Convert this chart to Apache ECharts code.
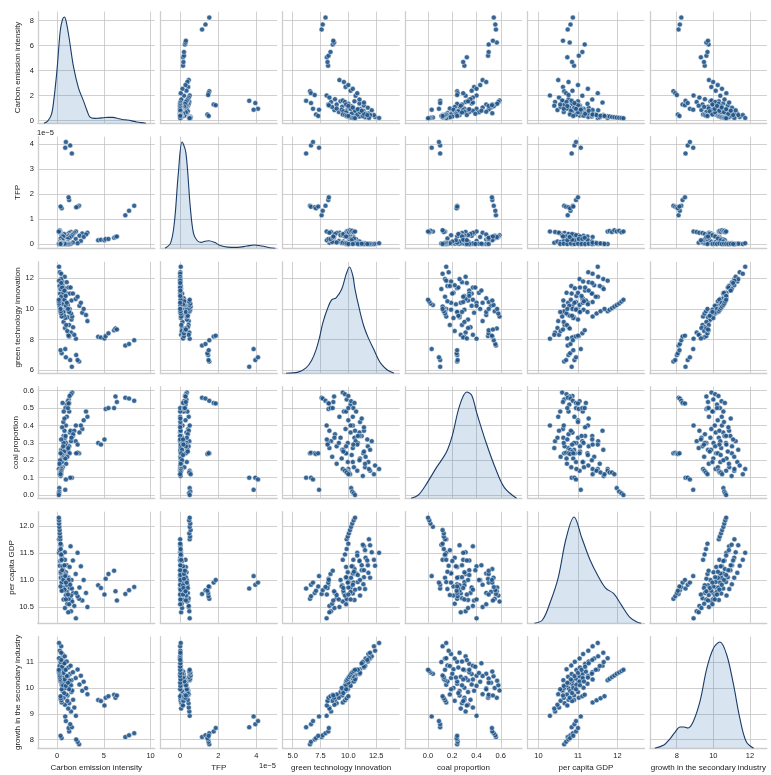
<!DOCTYPE html>
<html>
<head>
<meta charset="utf-8">
<script src="https://cdn.jsdelivr.net/npm/echarts@6/dist/echarts.min.js"></script>
<style>html,body{margin:0;background:#fff}#chart{width:771px;height:775px}</style>
</head>
<body>
<div id="chart"></div>
<script>
/* Pair plot: 6 variables, scatter off-diagonal, KDE on the diagonal. */
const varNames = ['Carbon emission intensity', 'TFP', 'green technology innovation',
  'coal proportion', 'per capita GDP', 'growth in the secondary industry'];

// observations (same order in every array), TFP in units of 1e-5
const cei = [
  0.95, 0.62, 0.8, 0.41, 0.58, 0.3, 0.45, 0.22,
  1.55, 1.1, 1.38, 0.92, 1.22, 0.7, 1.04, 0.55, 0.83, 0.45,
  3.25, 2.7, 3.1, 2.4, 2.85, 2.0, 2.55, 1.7, 2.2, 1.45,
  2.02, 1.5, 1.85, 1.3, 1.72, 1.12, 1.55, 0.95, 1.35, 0.85,
  1.62, 1.25, 1.5, 1.05, 1.35, 0.9, 1.15, 0.72, 0.6,
  1.2, 0.85, 1.1, 0.7, 0.98, 0.6, 0.88, 0.5, 0.75, 0.42,
  0.75, 0.5, 0.66, 0.4, 0.58, 0.33, 0.47, 0.27, 0.38, 0.22,
  1.3, 0.95, 1.18, 0.8, 1.05, 0.68, 0.92, 0.55, 0.8, 0.45,
  0.35, 0.33, 0.3, 0.28, 0.25, 0.23, 0.22, 0.2,
  0.5, 0.45, 0.4, 0.38,
  4.4, 4.7, 5.07, 5.2, 5.5, 6.1, 6.25, 6.4,
  7.3, 7.7, 8.25, 1.3, 1.24,
  2.36, 2.2, 2.05, 0.5, 0.38,
  1.59, 1.41, 0.95, 0.88
];
const tfp = [
  0.02, 0.01, 0.04, 0.0, 0.02, 0.01, 0.0, 0.03,
  0.04, 0.02, 0.0, 0.03, 0.01, 0.0, 0.02, 0.01, 0.0, 0.01,
  0.45, 0.42, 0.38, 0.33, 0.28, 0.2, 0.12, 0.06, 0.03, 0.01,
  0.5, 0.48, 0.45, 0.44, 0.4, 0.38, 0.35, 0.33, 0.3, 0.28,
  0.35, 0.33, 0.3, 0.28, 0.25, 0.22, 0.2, 0.18, 0.15,
  0.05, 0.1, 0.08, 0.12, 0.06, 0.1, 0.04, 0.08, 0.05, 0.03,
  0.4, 0.35, 0.3, 0.22, 0.15, 0.1, 0.05, 0.03, 0.02, 0.0,
  0.0, 0.01, 0.0, 0.02, 0.0, 0.01, 0.0, 0.0, 0.01, 0.0,
  0.5, 0.52, 0.48, 0.55, 0.5, 0.53, 0.47, 0.5,
  0.05, 0.03, 0.02, 0.0,
  0.15, 0.17, 0.15, 0.2, 0.2, 0.25, 0.28, 0.3,
  1.15, 1.33, 1.53, 1.76, 1.87,
  1.53, 1.49, 1.47, 1.43, 1.5,
  3.63, 3.95, 4.09, 3.86
];
const green = [
  11.05, 11.5, 11.35, 11.95, 11.8, 12.4, 12.3, 12.76,
  10.55, 10.4, 11.0, 10.85, 11.4, 11.2, 11.75, 11.55, 12.1, 11.95,
  9.2, 9.75, 9.6, 10.2, 10.0, 10.65, 10.4, 11.0, 10.8, 11.4,
  8.05, 8.45, 8.3, 8.95, 8.8, 9.45, 9.3, 9.95, 9.8, 10.45,
  9.5, 9.85, 9.7, 10.2, 10.0, 10.45, 10.25, 10.7, 10.55,
  8.3, 8.75, 8.55, 9.15, 8.95, 9.55, 9.4, 10.0, 9.8, 10.4,
  9.55, 9.95, 9.8, 10.5, 10.3, 11.0, 10.8, 11.5, 11.3, 11.85,
  9.8, 10.2, 10.0, 10.6, 10.4, 11.05, 10.85, 11.4, 11.2, 11.7,
  9.85, 9.95, 10.05, 10.15, 10.25, 10.35, 10.48, 10.6,
  9.5, 9.7, 9.85, 10.0,
  8.18, 8.13, 8.07, 8.22, 8.4, 8.6, 8.72, 8.65,
  7.6, 7.7, 7.95, 8.2, 8.25,
  6.56, 6.65, 6.98, 7.1, 7.3,
  6.21, 6.65, 6.83, 7.37
];
const coal = [
  0.21, 0.16, 0.24, 0.14, 0.19, 0.17, 0.12, 0.15,
  0.33, 0.27, 0.36, 0.3, 0.25, 0.34, 0.28, 0.22, 0.31, 0.26,
  0.45, 0.38, 0.48, 0.36, 0.43, 0.31, 0.4, 0.34, 0.29, 0.37,
  0.4, 0.31, 0.37, 0.28, 0.35, 0.26, 0.33, 0.3, 0.24, 0.29,
  0.59, 0.55, 0.58, 0.52, 0.57, 0.5, 0.54, 0.48, 0.53,
  0.27, 0.33, 0.22, 0.3, 0.18, 0.26, 0.21, 0.15, 0.24, 0.19,
  0.25, 0.19, 0.28, 0.16, 0.23, 0.2, 0.14, 0.18, 0.11, 0.15,
  0.48, 0.4, 0.5, 0.37, 0.45, 0.42, 0.34, 0.39, 0.44, 0.32,
  0.14, 0.13, 0.13, 0.12, 0.04, 0.02, 0.01, 0.0,
  0.15, 0.14, 0.13, 0.12,
  0.3, 0.29, 0.32, 0.495, 0.5, 0.5, 0.567, 0.535,
  0.56, 0.555, 0.542, 0.53, 0.527,
  0.24, 0.244, 0.24, 0.236, 0.24,
  0.1, 0.1, 0.09, 0.03
];
const gdp = [
  10.71, 10.83, 10.92, 11.04, 11.13, 11.26, 11.37, 11.5,
  10.63, 10.75, 10.84, 10.96, 11.05, 11.18, 11.27, 11.41, 11.51, 11.64,
  10.5, 10.62, 10.76, 10.86, 11.0, 11.11, 11.25, 11.36, 11.5, 11.62,
  10.29, 10.42, 10.52, 10.66, 10.76, 10.9, 11.0, 11.14, 11.24, 11.37,
  10.6, 10.65, 10.71, 10.78, 10.86, 10.95, 11.04, 11.12, 11.2,
  10.4, 10.48, 10.56, 10.64, 10.72, 10.8, 10.88, 10.96, 11.04, 11.12,
  10.85, 10.95, 11.05, 11.15, 11.25, 11.35, 11.45, 11.55, 11.65, 11.75,
  10.55, 10.64, 10.73, 10.82, 10.91, 11.0, 11.09, 11.18, 11.27, 11.36,
  11.75, 11.8, 11.86, 11.92, 11.98, 12.04, 12.1, 12.15,
  11.37, 11.47, 11.57, 11.67,
  10.9, 10.85, 10.73, 11.02, 11.11, 11.17, 10.79, 10.62,
  10.74, 10.81, 10.87, 10.95, 11.0,
  10.65, 10.7, 10.76, 10.8, 10.88,
  10.84, 10.91, 10.95, 11.07
];
const growth = [
  10.72, 10.87, 11.01, 11.14, 11.31, 11.44, 11.61, 11.74,
  10.3, 10.43, 10.54, 10.69, 10.79, 10.93, 11.02, 11.14, 11.22, 11.36,
  9.76, 9.89, 9.99, 10.13, 10.24, 10.38, 10.47, 10.61, 10.71, 10.86,
  8.92, 9.09, 9.24, 9.41, 9.54, 9.71, 9.84, 10.01, 10.16, 10.33,
  9.9, 10.0, 10.1, 10.2, 10.28, 10.36, 10.45, 10.55, 10.63,
  9.2, 9.35, 9.5, 9.62, 9.75, 9.88, 10.0, 10.12, 10.25, 10.38,
  9.8, 9.95, 10.1, 10.25, 10.4, 10.55, 10.7, 10.85, 11.0, 11.15,
  9.95, 10.08, 10.2, 10.33, 10.46, 10.58, 10.7, 10.82, 10.95, 11.08,
  10.3, 10.35, 10.42, 10.48, 10.55, 10.6, 10.65, 10.7,
  9.44, 9.52, 9.6, 9.68,
  9.53, 9.49, 9.32, 9.62, 9.68, 9.74, 9.62, 9.71,
  8.1, 8.17, 8.25, 8.32, 8.45,
  7.82, 7.92, 8.01, 8.06, 8.15,
  8.48, 8.6, 8.72, 8.9
];

// density curves on the diagonal (relative height)
const kdeCeiX = [-1.4, -1.0, -0.6, -0.35, 0, 0.35, 0.6, 0.8, 1.0, 1.3, 1.77, 2.3, 2.83, 3.2, 3.5, 4.0, 4.5, 5.0, 5.5, 6.0, 6.5, 7.0, 7.5, 8.0, 8.5, 9.0, 9.5];
const kdeCeiY = [0, 0.02, 0.08, 0.21, 0.5, 0.87, 0.98, 1.0, 0.95, 0.8, 0.53, 0.33, 0.21, 0.12, 0.06, 0.045, 0.048, 0.052, 0.055, 0.055, 0.045, 0.035, 0.03, 0.022, 0.012, 0.005, 0];
const kdeTfpX = [-0.8, -0.5, -0.3, -0.1, 0.1, 0.3, 0.53, 0.7, 0.9, 1.1, 1.3, 1.5, 1.8, 2.1, 2.5, 3.0, 3.5, 3.9, 4.3, 4.7, 5.0];
const kdeTfpY = [0, 0.05, 0.25, 0.7, 1.0, 0.9, 0.39, 0.14, 0.07, 0.055, 0.065, 0.07, 0.055, 0.025, 0.01, 0.008, 0.02, 0.03, 0.02, 0.005, 0];
const kdeGreenX = [4.4, 5.5, 6.2, 6.7, 7.1, 7.4, 7.7, 8.1, 8.5, 8.9, 9.4, 9.8, 10.1, 10.4, 10.6, 11.0, 11.4, 11.8, 12.3, 12.7, 13.0, 13.5, 14.1];
const kdeGreenY = [0, 0.01, 0.05, 0.12, 0.22, 0.33, 0.47, 0.6, 0.69, 0.71, 0.79, 0.93, 1.0, 0.92, 0.79, 0.6, 0.44, 0.33, 0.22, 0.13, 0.08, 0.03, 0];
const kdeCoalX = [-0.14, -0.08, -0.01, 0.07, 0.15, 0.2, 0.26, 0.32, 0.36, 0.4, 0.48, 0.56, 0.63, 0.73];
const kdeCoalY = [0, 0.03, 0.14, 0.29, 0.43, 0.59, 0.87, 1.0, 0.97, 0.81, 0.52, 0.27, 0.1, 0];
const kdeGdpX = [9.9, 10.1, 10.3, 10.5, 10.7, 10.9, 11.1, 11.3, 11.5, 11.7, 11.9, 12.1, 12.3, 12.5, 12.6];
const kdeGdpY = [0, 0.03, 0.2, 0.43, 0.8, 1.0, 0.8, 0.6, 0.45, 0.33, 0.28, 0.17, 0.06, 0.01, 0];
const kdeGrowthX = [6.8, 7.3, 7.64, 7.9, 8.18, 8.4, 8.6, 8.9, 9.27, 9.64, 10.0, 10.36, 10.73, 11.1, 11.45, 11.8, 12.2];
const kdeGrowthY = [0, 0.03, 0.09, 0.15, 0.2, 0.2, 0.19, 0.25, 0.44, 0.75, 0.94, 1.0, 0.88, 0.6, 0.28, 0.06, 0];

// tick values and labels
const xTickVals = [[0, 5, 10], [0, 2, 4], [5, 7.5, 10, 12.5], [0, 0.2, 0.4, 0.6], [10, 11, 12], [8, 10, 12]];
const xTickText = [['0', '5', '10'], ['0', '2', '4'], ['5.0', '7.5', '10.0', '12.5'], ['0.0', '0.2', '0.4', '0.6'], ['10', '11', '12'], ['8', '10', '12']];
const yTickVals = [[0, 2, 4, 6, 8], [0, 1, 2, 3, 4], [6, 8, 10, 12], [0, 0.1, 0.2, 0.3, 0.4, 0.5, 0.6], [10.5, 11, 11.5, 12], [8, 9, 10, 11]];
const yTickText = [['0', '2', '4', '6', '8'], ['0', '1', '2', '3', '4'], ['6', '8', '10', '12'],
  ['0.0', '0.1', '0.2', '0.3', '0.4', '0.5', '0.6'], ['10.5', '11.0', '11.5', '12.0'], ['8', '9', '10', '11']];

const cols = [cei, tfp, green, coal, gdp, growth];
const kdes = [[kdeCeiX, kdeCeiY], [kdeTfpX, kdeTfpY], [kdeGreenX, kdeGreenY],
  [kdeCoalX, kdeCoalY], [kdeGdpX, kdeGdpY], [kdeGrowthX, kdeGrowthY]];

// axis extents as matplotlib laid them out
const xRange = [[-2.05, 10.45], [-1.05, 5.1], [4.1, 14.6], [-0.19, 0.775], [9.72, 12.68], [6.53, 12.92]];
const yRange = [[-0.2, 8.72], [-0.17, 4.3], [5.79, 13.09], [-0.018, 0.623], [10.2, 12.26], [7.67, 11.98]];

const FONT = "'Liberation Sans Narrow', 'Liberation Sans', sans-serif";
const L0 = 37.8, DX = 122.4, W = 117, T0 = 11.7, DY = 125, H = 111.5;
const gridColor = '#c4c4c4', spineColor = '#cdcdcd';
const dotColor = '#1f5488';

const chart = echarts.init(document.getElementById('chart'));
const grid = [], xAxis = [], yAxis = [], series = [];

const lookup = (vals, txt) => (v) => {
  const i = vals.findIndex(t => Math.abs(t - v) < 1e-9);
  return i >= 0 ? txt[i] : '';
};

for (let r = 0; r < 6; r++) {
  for (let c = 0; c < 6; c++) {
    const g = grid.length;
    grid.push({ left: L0 + c * DX, top: T0 + r * DY, width: W, height: H });
    xAxis.push({
      gridIndex: g, type: 'value', min: xRange[c][0], max: xRange[c][1],
      axisLine: { show: true, onZero: false, lineStyle: { color: spineColor, width: 1.3 } },
      axisTick: { show: false, customValues: xTickVals[c] },
      axisLabel: { show: r === 5, customValues: xTickVals[c], formatter: lookup(xTickVals[c], xTickText[c]),
        fontSize: 7.5, color: '#222', margin: 4, fontFamily: FONT },
      splitLine: { show: true, lineStyle: { color: gridColor, width: 0.8 } },
      name: r === 5 ? varNames[c] : '', nameLocation: 'middle', nameGap: 16,
      nameTextStyle: { fontSize: 8, color: '#222', fontFamily: FONT },
    });
    const yi = yAxis.length;
    yAxis.push({
      gridIndex: g, type: 'value', min: yRange[r][0], max: yRange[r][1],
      axisLine: { show: true, onZero: false, lineStyle: { color: spineColor, width: 1.3 } },
      axisTick: { show: false, customValues: yTickVals[r] },
      axisLabel: { show: c === 0, customValues: yTickVals[r], formatter: lookup(yTickVals[r], yTickText[r]),
        fontSize: 7.5, color: '#222', margin: 4, fontFamily: FONT },
      splitLine: { show: true, lineStyle: { color: gridColor, width: 0.8 } },
      name: c === 0 ? varNames[r] : '', nameLocation: 'middle', nameGap: 16, nameRotate: 90,
      nameTextStyle: { fontSize: 8, color: '#222', fontFamily: FONT },
    });
    if (r === c) {
      const ki = yAxis.length;
      yAxis.push({ gridIndex: g, type: 'value', min: 0, max: 1.05, show: false });
      const [kx, ky] = kdes[c];
      series.push({
        type: 'line', xAxisIndex: g, yAxisIndex: ki, smooth: 0.35, symbol: 'none', silent: true,
        data: kx.map((x, k) => [x, ky[k]]),
        lineStyle: { color: '#1b3c68', width: 1.1 },
        areaStyle: { color: 'rgba(70,130,190,0.3)' },
      });
    } else {
      series.push({
        type: 'scatter', xAxisIndex: g, yAxisIndex: yi, symbolSize: 5, silent: true,
        data: cols[c].map((v, k) => [v, cols[r][k]]),
        itemStyle: { color: dotColor, borderColor: '#fff', borderWidth: 0.5, opacity: 0.9 },
      });
    }
  }
}

chart.setOption({
  animation: false,
  grid, xAxis, yAxis, series,
  graphic: [
    { type: 'text', left: 37, top: 129, style: { text: '1e\u22125', fontSize: 7.5, fill: '#222', fontFamily: FONT } },
    { type: 'text', left: 259, top: 762, style: { text: '1e\u22125', fontSize: 7.5, fill: '#222', fontFamily: FONT } },
  ],
});
window.addEventListener('resize', () => chart.resize());
</script>
</body>
</html>
